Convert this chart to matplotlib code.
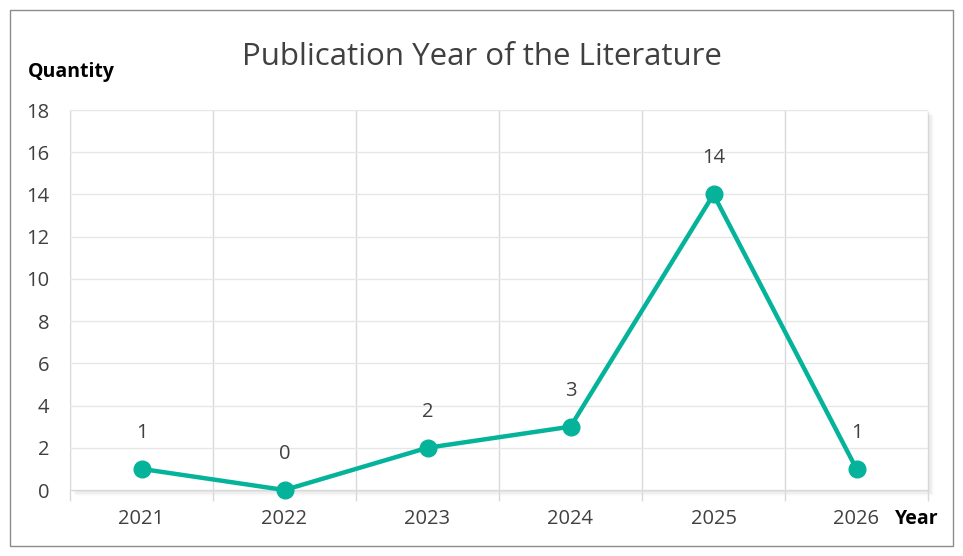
import matplotlib.pyplot as plt
from matplotlib.patches import Rectangle

# data
years = ["2021", "2022", "2023", "2024", "2025", "2026"]
counts = [1, 0, 2, 3, 14, 1]
y_ticks = [0, 2, 4, 6, 8, 10, 12, 14, 16, 18]

line_color = "#05B39A"
text_color = "#404040"

plt.rcParams['font.family'] = ['Open Sans', 'DejaVu Sans']

W, H = 963, 556
fig = plt.figure(figsize=(W / 100, H / 100), dpi=100)

# plot area in pixels
left, right, top, bottom = 70, 928, 110, 490
ax = fig.add_axes([left / W, 1 - bottom / H, (right - left) / W, (bottom - top) / H])

# outer frame
fig.patches.append(Rectangle((10 / W, 10 / H), 943 / W, 536 / H, transform=fig.transFigure,
                             fill=False, edgecolor="#8c8c8c", linewidth=1.0))

# soft shadow around plot area (right & bottom)
for i, a in enumerate([0.05, 0.04, 0.03, 0.02, 0.01]):
    d = (i + 1) * 1.2
    fig.patches.append(Rectangle(((left + d) / W, 1 - (bottom + d) / H),
                                 (right - left) / W, (bottom - top) / H,
                                 transform=fig.transFigure, facecolor="black",
                                 edgecolor="none", alpha=a, zorder=0))

x = list(range(len(years)))
ax.set_facecolor("white")
ax.set_zorder(1)
ax.plot(x, counts, color=line_color, linewidth=3.2, marker="o", markersize=12,
        clip_on=False, zorder=3)
for xi, c in zip(x, counts):
    ax.annotate(str(c), (xi, c), xytext=(0, 26), textcoords="offset points",
                ha="center", va="center", fontsize=14.5, color=text_color)

ax.set_xlim(-0.5, len(years) - 0.5)
ax.set_ylim(0, 18)
ax.set_yticks(y_ticks)
ax.set_yticklabels([str(t) for t in y_ticks], fontsize=14.5, color=text_color)
ax.set_xticks(x)
ax.set_xticklabels(years, fontsize=14.5, color=text_color)
ax.tick_params(axis="y", length=0, pad=15)
ax.tick_params(axis="x", length=0, pad=14)

ax.set_xticks([i - 0.5 for i in range(len(years) + 1)], minor=True)
ax.tick_params(axis="x", which="minor", length=8, color="#d9d9d9", width=1)
ax.grid(axis="y", color="#e6e6e6", linewidth=1)
ax.grid(axis="x", which="minor", color="#d9d9d9", linewidth=1)
ax.set_axisbelow(True)
for s in ["top", "right"]:
    ax.spines[s].set_visible(False)
ax.spines["left"].set_color("#e0e0e0")
ax.spines["bottom"].set_color("#d9d9d9")
for s in ax.spines.values():
    s.set_zorder(0)

fig.text(482 / W, 1 - 57 / H, "Publication Year of the Literature", ha="center", va="center",
         fontsize=22.5, color=text_color)
fig.text(28 / W, 1 - 72 / H, "Quantity", ha="left", va="center", fontsize=14,
         fontweight="bold", color="black")
fig.text(939 / W, 1 - 519 / H, "Year", ha="right", va="center", fontsize=14,
         fontweight="bold", color="black")

fig.savefig("out.png", dpi=100)
